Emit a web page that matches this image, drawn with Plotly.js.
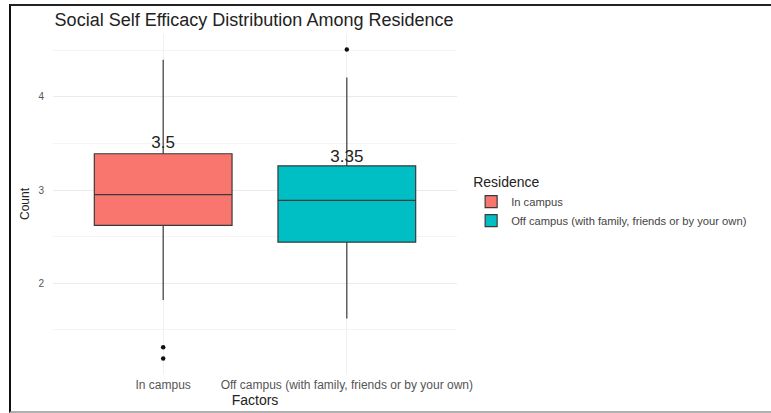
<!DOCTYPE html>
<html>
<head>
<meta charset="utf-8">
<script src="https://cdn.plot.ly/plotly-3.0.1.min.js"></script>
<style>
  html, body { margin: 0; padding: 0; background: #fff; }
  #wrap { position: relative; width: 771px; height: 413px; overflow: hidden; }
  #chart { position: absolute; left: 0; top: 0; width: 771px; height: 413px; }
  #frame { position: absolute; left: 9px; top: 4px; width: 770px; height: 405px;
           border-left: 2px solid #111; border-top: 2px solid #222; border-bottom: 2px solid #b0b0b0;
           pointer-events: none; }
</style>
</head>
<body>
<div id="wrap">
  <div id="chart"></div>
  <div id="frame"></div>
</div>
<script>
// ---- data ----
const categories = ["In campus", "Off campus (with family, friends or by your own)"];
const q1Values = [2.62, 2.44];
const medianValues = [2.95, 2.89];
const q3Values = [3.39, 3.26];
const lowerWhisker = [1.82, 1.62];
const upperWhisker = [4.40, 4.21];
const outlierCategory = ["In campus", "In campus", "Off campus (with family, friends or by your own)"];
const outlierValues = [1.31, 1.19, 4.51];
const labelValues = [3.5, 3.35];
const labelTexts = ["3.5", "3.35"];
const boxColors = ["#F8766D", "#00BFC4"];

const traces = [];
categories.forEach((cat, i) => {
  traces.push({
    type: "box",
    name: cat,
    x: [cat],
    q1: [q1Values[i]],
    median: [medianValues[i]],
    q3: [q3Values[i]],
    lowerfence: [lowerWhisker[i]],
    upperfence: [upperWhisker[i]],
    width: 0.75,
    whiskerwidth: 0,
    fillcolor: boxColors[i],
    line: { color: "#3a3a3a", width: 1.2 },
    boxpoints: false,
    hoverinfo: "skip"
  });
});
traces.push({
  type: "scatter",
  mode: "markers",
  x: outlierCategory,
  y: outlierValues,
  marker: { color: "#111111", size: 4.5 },
  showlegend: false,
  hoverinfo: "skip"
});
traces.push({
  type: "scatter",
  mode: "text",
  x: categories,
  y: labelValues,
  text: labelTexts,
  textposition: "middle center",
  textfont: { family: "Liberation Sans, Arial, sans-serif", size: 17, color: "#222222" },
  showlegend: false,
  hoverinfo: "skip"
});

const layout = {
  width: 771,
  height: 413,
  margin: { l: 53, r: 314, t: 34, b: 39 },
  paper_bgcolor: "#ffffff",
  plot_bgcolor: "#ffffff",
  font: { family: "Liberation Sans, Arial, sans-serif", color: "#333" },
  boxmode: "overlay",
  title: {
    text: "Social Self Efficacy Distribution Among Residence",
    font: { size: 18, color: "#222" },
    xref: "paper", x: 0.004, xanchor: "left",
    yref: "container", y: 1 - 20 / 413, yanchor: "middle"
  },
  xaxis: {
    type: "category",
    categoryarray: categories,
    range: [-0.6, 1.6],
    showgrid: true,
    gridcolor: "#f0f0f0",
    gridwidth: 1,
    zeroline: false,
    showline: false,
    ticks: "",
    ticklabelstandoff: 2,
    tickfont: { size: 12, color: "#555" },
    title: { text: "Factors", font: { size: 14, color: "#222" }, standoff: 2 }
  },
  yaxis: {
    range: [1.024, 4.676],
    tickvals: [2, 3, 4],
    ticktext: ["2", "3", "4"],
    showgrid: true,
    gridcolor: "#ebebeb",
    gridwidth: 1,
    minor: { tick0: 0.5, dtick: 1, showgrid: true, gridcolor: "#f4f4f4", gridwidth: 1, ticks: "" },
    zeroline: false,
    showline: false,
    ticks: "",
    ticklabelstandoff: 8,
    tickfont: { size: 10, color: "#555" },
    title: { text: "Count", font: { size: 12, color: "#222" }, standoff: 6 }
  },
  showlegend: true,
  legend: {
    x: 1.035, xanchor: "left",
    y: 0.603, yanchor: "top",
    title: { text: "Residence", font: { size: 14, color: "#222" } },
    font: { size: 11.2, color: "#444" },
    tracegroupgap: 0,
    bgcolor: "rgba(0,0,0,0)"
  }
};

Plotly.newPlot("chart", traces, layout, { staticPlot: true, displayModeBar: false });
</script>
</body>
</html>
